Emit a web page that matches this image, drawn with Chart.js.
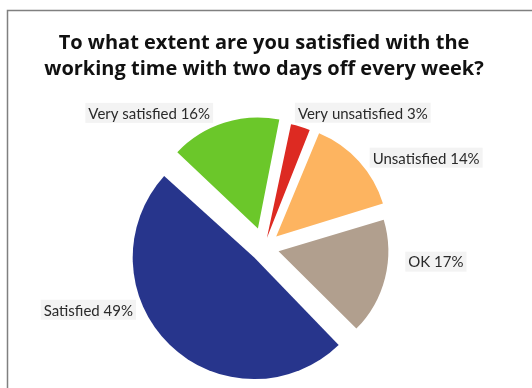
<!DOCTYPE html>
<html>
<head>
<meta charset="utf-8">
<script src="https://cdn.jsdelivr.net/npm/chart.js@4"></script>
<style>
	html, body { margin: 0; padding: 0; background: #fff; }
	canvas { display: block; }
</style>
</head>
<body>
<canvas id="chart" width="532" height="388"></canvas>
<script>
// data
const titleLines = ["To what extent are you satisfied with the", "working time with two days off every week?"];
const categories = ["Satisfied", "Very satisfied", "Very unsatisfied", "Unsatisfied", "OK"];
const shares = [49, 16, 3, 14, 17];
const sliceColors = ["#27358c", "#6bc72a", "#dd2a22", "#fdb460", "#b19f8e"];

const FONT = "Lato, 'Open Sans', 'DejaVu Sans', sans-serif";

// how far each slice is pulled out of the pie
const explode = [56, 80, 40, 66, 60];

// label placement: nudge (degrees) from the slice middle, gap beyond the rim
const labelNudge = [20.5, -4.1, -2.7, 2.7, -8.5];
const labelGap = [37, 37, 31, 33, 37];

var frame = {
	id: "frame",
	beforeDraw(chart)
	{
		var ctx = chart.ctx;
		ctx.save();
		ctx.fillStyle = "#fff";
		ctx.fillRect(0, 0, chart.width, chart.height);
		ctx.strokeStyle = "#808080";
		ctx.lineWidth = 1.5;
		ctx.strokeRect(7.5, 10.5, chart.width + 20, chart.height + 20);
		ctx.restore();
	}
};

var sliceLabels = {
	id: "sliceLabels",
	afterDatasetsDraw(chart)
	{
		var ctx = chart.ctx;
		var meta = chart.getDatasetMeta(0);
		ctx.save();
		ctx.font = "15px " + FONT;
		ctx.textBaseline = "middle";
		meta.data.forEach(function (arc, i)
		{
			var p = arc.getProps(["x", "y", "startAngle", "endAngle", "outerRadius"], true);
			var mid = (p.startAngle + p.endAngle) / 2 + labelNudge[i] * Math.PI / 180;
			var r = p.outerRadius + labelGap[i];
			var ax = p.x + Math.cos(mid) * r;
			var ay = p.y + Math.sin(mid) * r;
			var text = categories[i] + " " + shares[i] + "%";
			var w = ctx.measureText(text).width;
			var left = Math.cos(mid) < 0 ? ax - w : ax;
			ctx.fillStyle = "#f3f3f3";
			ctx.fillRect(left - 3, ay - 10, w + 6, 20);
			ctx.fillStyle = "#2a2a2a";
			ctx.textAlign = "left";
			ctx.fillText(text, left, ay + 1);
		});
		ctx.restore();
	}
};

new Chart(document.getElementById("chart"), {
	type: "pie",
	data: {
		labels: categories,
		datasets: [{
			data: shares,
			backgroundColor: sliceColors,
			borderWidth: 0,
			offset: (c) => explode[c.dataIndex]
		}]
	},
	options: {
		responsive: false,
		animation: false,
		rotation: 135,
		radius: 108,
		layout: { padding: { left: 0, right: 4, top: 0, bottom: 0 } },
		plugins: {
			legend: { display: false },
			tooltip: { enabled: false },
			title: {
				display: true,
				text: titleLines,
				color: "#111",
				font: { family: "'Open Sans', Lato, sans-serif", size: 20, weight: "bold", lineHeight: 1.3 },
				padding: { top: 30, bottom: 25 }
			}
		}
	},
	plugins: [frame, sliceLabels]
});
</script>
</body>
</html>
